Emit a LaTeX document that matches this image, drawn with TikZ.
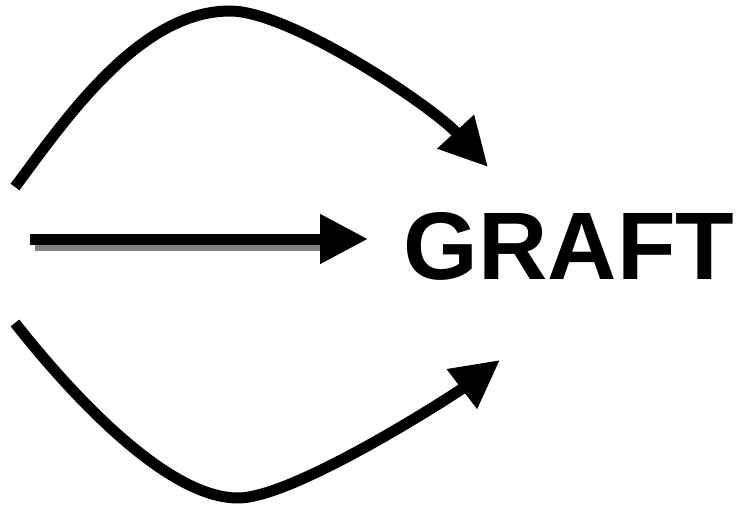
\documentclass[tikz,border=0pt]{standalone}
\usepackage{fontspec}
\setmainfont{Liberation Sans}
\usetikzlibrary{arrows.meta}

\tikzset{
    fatarrow/.style={
      line width=11pt,
      -{Triangle[length=48pt,width=47pt]}
    },
    shadowline/.style={
      line width=11pt, black!50
    },
    bigword/.style={
      font=\bfseries\fontsize{96}{96}\selectfont, inner sep=0pt
    }
  }

\begin{document}
\begin{tikzpicture}[x=1pt,y=-1pt]
    \useasboundingbox (0,0) rectangle (750,508);

    \node[bigword] (graft) at (569,246) {GRAFT};

    % top
    \coordinate (top0) at (15,187);
    \coordinate (top1) at (230,11);
    \coordinate (top2) at (488,167);
    \draw[fatarrow] (top0) .. controls (67,117) and (140,11) .. (top1)
                           .. controls (290,11) and (432,106) .. (top2);

    % middle
    \coordinate (mid0) at (30,239);
    \coordinate (mid1) at (368,239);
    \draw[shadowline] ([shift={(5,6)}]mid0) -- ([shift={(-43,6)}]mid1);
    \draw[fatarrow] (mid0) -- (mid1);

    % bottom
    \coordinate (bot0) at (15,323);
    \coordinate (bot1) at (238,498);
    \coordinate (bot2) at (500,360);
    \draw[fatarrow] (bot0) .. controls (67,389) and (165,498) .. (bot1)
                           .. controls (295,498) and (458,392) .. (bot2);
\end{tikzpicture}
\end{document}
